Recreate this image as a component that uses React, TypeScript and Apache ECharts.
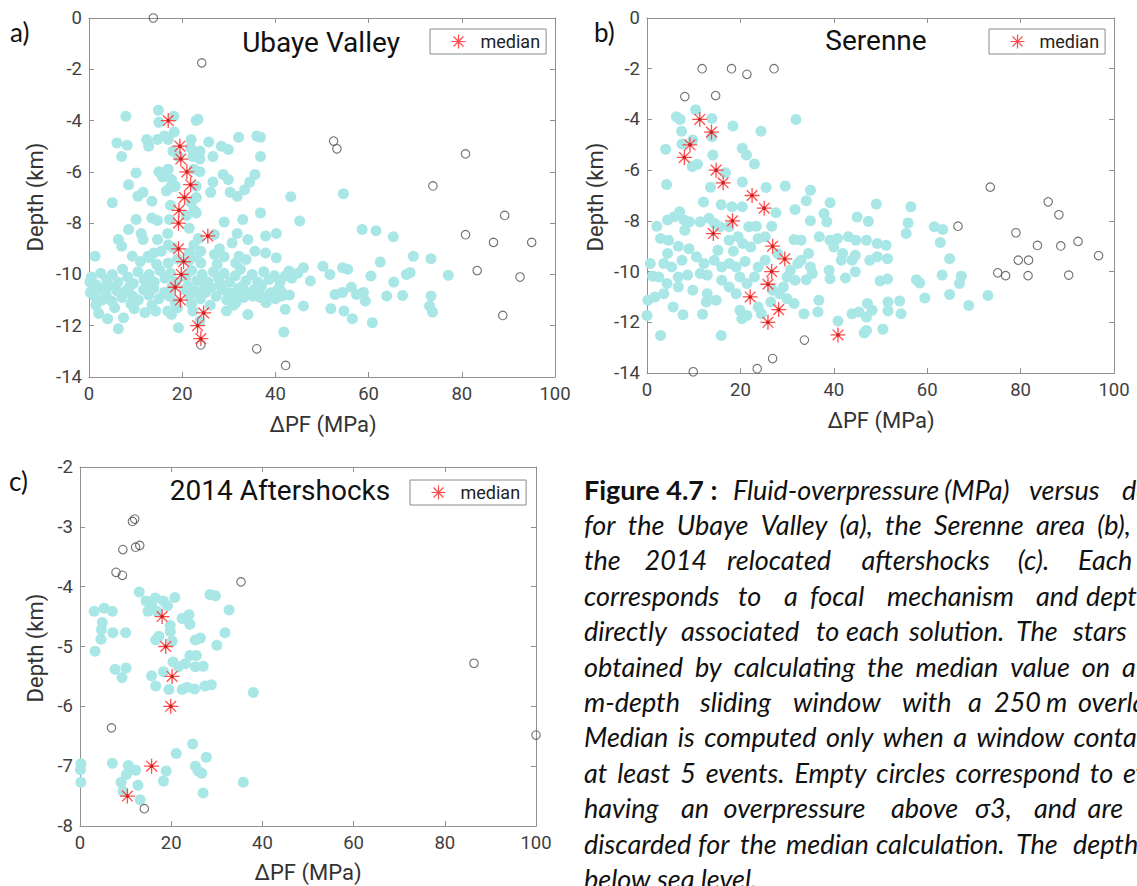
import React, { useEffect, useRef } from 'react';
import * as echarts from 'echarts';

// ---------- data ----------
const pfTicks = [0, 20, 40, 60, 80, 100];
const depthTicksAB = [-14, -12, -10, -8, -6, -4, -2, 0];
const depthTicksC = [-8, -7, -6, -5, -4, -3, -2];

const ubayeEvents: number[][] = [
  [14.9, -3.6], [18.2, -3.83], [7.9, -3.83], [23, -4], [23.4, -3.95], [15, -4.07],
  [18.3, -4.45], [6, -4.87], [8.2, -4.96], [12.4, -4.74], [12.8, -5], [14.7, -4.74], [16.2, -4.6], [17, -4.74],
  [21.9, -4.74], [21.8, -5.06], [23.8, -5.2], [25.7, -4.84], [28.4, -5], [29.9, -5.13], [32.1, -4.65], [36, -4.6],
  [36.8, -4.65], [7, -5.4], [23.8, -5.5], [26.6, -5.4], [36.8, -5.4], [22.3, -5.4], [19.2, -5.4], [18, -5.2],
  [10.1, -6.04], [8.5, -6.5], [15, -6], [15.8, -6.2], [17, -5.9], [17.7, -6.3], [16.6, -6.75], [18.5, -6.56],
  [23.8, -6], [26.1, -6.8], [26.6, -6.4], [28.8, -6.1], [29.9, -6.3], [34.5, -6.4], [35.6, -6.1], [33.4, -6.7],
  [30.3, -6.8], [31.8, -6.95], [23, -6.56], [22.5, -5.9], [17.5, -6.6],
  [10.5, -6.95], [11.6, -6.8], [5, -7.2], [13.5, -7.15], [21.9, -7.2], [43.3, -6.97], [54.6, -6.85], [36.8, -7.6],
  [23, -7.6], [20.9, -7.7], [23, -7.0], [22.5, -7.5], [17.5, -7.3],
  [10.1, -7.86], [13.5, -7.8], [14.7, -7.9], [17.3, -7.86], [29, -7.96], [33, -7.86], [45.2, -7.92], [6.3, -8.64],
  [8.5, -8.25], [11.2, -8.4], [11.6, -8.64], [14.7, -8.64], [16.9, -8.4], [26.9, -8.44], [30.7, -8.77], [31.8, -8.4],
  [34.1, -8.64], [37.9, -8.5], [40.2, -8.4], [58.6, -8.25], [61.6, -8.3], [65.3, -8.53], [7, -8.9], [21.5, -8.2],
  [23.5, -8.6], [17, -8.85],
  [1.3, -9.29], [9.3, -9.29], [12.7, -9.29], [13.9, -9.16], [21.5, -9.16], [26.9, -9.22], [29, -9.31], [32.2, -9.29],
  [33.7, -9.42], [35.6, -9.1], [37.9, -9.16], [40.2, -9.35], [31.5, -9.55], [69.6, -9.29], [73.4, -9.39], [62.5, -9.52],
  [11, -9.5], [14.5, -9.6], [17, -9.55], [21.5, -9.45], [24, -9.55], [27.5, -9.6], [15.5, -9.1], [18, -8.95],
  [22.5, -8.85], [24, -9.1], [28, -9.0], [13, -9.35], [19, -9.4], [23, -9.3],
  [46, -9.74], [50.2, -9.68], [51.7, -10], [54.4, -9.74], [55.5, -9.8], [60.5, -10.06], [65.4, -10.3], [68.1, -10],
  [68.9, -9.93], [77.1, -10.03], [47.5, -10.26], [42.1, -10.06], [42.9, -9.87],
  [52.8, -10.78], [54.4, -10.7], [56.3, -10.5], [57.4, -10.78], [58.9, -10.7], [59.3, -11.04], [63.9, -10.84],
  [67.3, -10.82], [73.4, -10.84], [73.1, -11.23], [73.7, -11.47], [46, -11.23], [51.9, -11.34], [54.7, -11.43],
  [56.5, -11.73], [60.8, -11.88], [41.8, -12.25], [42.1, -11.36], [34.1, -11.56], [29.5, -11.43], [19.2, -12.08],
  [6.3, -12.12], [7.4, -11.69], [4, -11.73], [2.1, -11.52], [9.7, -11.34], [12, -11.49], [14.3, -11.43], [16.9, -11.43],
  [17.7, -11.56], [22.3, -11.43], [23.8, -11.82], [31.5, -11.1], [36.8, -10.9], [41.4, -10.84], [40.6, -10.58],
  [39.1, -10.71], [35.5, -10.58], [34.1, -10.71], [31.8, -10.84], [29.8, -10.71],
  [0.5, -10.1], [1.5, -10.4], [2.5, -9.95], [3.8, -10.2], [5, -10.0], [6.2, -10.3], [7.2, -9.8], [8.3, -10.1],
  [9.5, -10.35], [10.5, -9.9], [11.8, -10.2], [12.9, -10.0], [14, -10.3], [15.2, -9.85], [16.3, -10.15], [17.5, -9.95],
  [18.6, -10.3], [20.8, -10.1], [22, -9.85], [23.1, -10.25], [24.3, -10.0], [25.5, -10.3], [26.7, -9.9], [27.8, -10.15],
  [29, -9.95], [30.2, -10.3], [31.4, -10.05], [32.5, -9.8], [33.7, -10.25], [35, -10.0], [36.2, -10.3], [37.5, -9.9],
  [38.6, -10.2], [39.8, -10.05], [41, -10.3], [43.5, -10.15], [44.8, -9.95],
  [0.3, -10.7], [1.4, -10.9], [2.6, -10.55], [3.7, -10.8], [4.9, -11.05], [6, -10.65], [7.1, -10.9], [8.2, -10.6],
  [9.4, -10.85], [10.6, -11.0], [11.7, -10.6], [12.8, -10.8], [13.9, -10.55], [15, -10.95], [16.2, -10.7], [17.3, -10.85],
  [18.5, -11.1], [20.5, -10.6], [21.6, -10.85], [22.8, -10.65], [23.9, -10.95], [25, -10.7], [26.2, -10.5], [27.3, -10.85],
  [28.5, -10.6], [29.6, -11.0], [30.8, -10.75], [32, -10.55], [33.2, -10.9], [35.2, -10.85], [36.5, -10.6], [37.8, -10.9],
  [38.8, -10.75], [40, -10.95], [41.2, -10.65], [43, -10.8],
  [1, -10.5], [4.5, -10.45], [8.8, -10.45], [13.2, -10.4], [17.8, -10.5], [21.2, -10.45], [24.8, -10.45], [28.2, -10.4],
  [33, -10.45], [37, -10.45], [0.2, -10.3],
  [1.5, -11.2], [5.5, -11.3], [9, -11.15], [13.5, -11.2], [19, -11.3], [22, -11.15], [26, -11.2], [31, -11.2],
  [38, -11.1], [2.8, -11.0]
];
const ubayeDiscarded: number[][] = [
  [13.8, 0], [24.2, -1.75], [52.5, -4.8], [53.2, -5.1], [80.8, -5.3], [73.8, -6.55], [89.2, -7.7], [80.8, -8.45],
  [86.8, -8.75], [95.0, -8.75], [83.3, -9.85], [92.5, -10.1], [88.8, -11.6], [24.0, -12.75], [36.0, -12.9], [42.2, -13.55]
];
const ubayeMedian: number[][] = [
  [17, -4], [19.5, -5], [19.7, -5.5], [21, -6], [21.8, -6.5], [20.5, -7], [19.3, -7.5], [19.2, -8], [25.5, -8.5],
  [19.2, -9], [20.3, -9.5], [19.8, -10], [18.5, -10.5], [19.6, -11], [24.6, -11.5], [23.3, -12], [24, -12.5]
];

const serenneEvents: number[][] = [
  [10.4, -3.62], [6.3, -3.89], [7.1, -4], [13.9, -3.96], [18.4, -4.26], [31.9, -4.0], [24.4, -4.47], [7.4, -4.47],
  [9.8, -4.81], [7.5, -4.97], [4, -5.18], [13.9, -4.68], [20.4, -5.14], [21.3, -5.4], [23, -5.76], [14.1, -5.4],
  [9.7, -5.86], [10.8, -5.77], [16.8, -6.1], [4.2, -6.57], [13.6, -6.67], [20.4, -6.47], [25.5, -6.68], [29.6, -6.63],
  [35, -6.79], [12.1, -7.26], [15.9, -7.36], [18.2, -7.44], [20.4, -7.44], [27.6, -7.68], [31.7, -7.55], [34.1, -7.21],
  [39.2, -7.29], [49.1, -7.34], [56.5, -7.44], [37.9, -7.71], [38.5, -8.04], [45, -7.85], [47.4, -8.02], [55.9, -8.08],
  [55.5, -8.5], [61.5, -8.23], [63.3, -8.34], [62.8, -8.85], [35, -8], [26.7, -8.21], [21.8, -8.23], [23.4, -8.21],
  [7, -7.64], [5.8, -7.84], [4.4, -7.97], [7.9, -7.97], [9.1, -8.04], [2.1, -8.21], [2.9, -8.7], [4.6, -8.76],
  [6.7, -9], [8.1, -8.37], [11.4, -8.04], [13.3, -7.9], [14.5, -8.1], [15.6, -8.23], [17.6, -8.23], [19.5, -8.63],
  [17.6, -8.76], [20.5, -8.89], [22.2, -9.03], [23.8, -8.7], [25.3, -8.63], [31.5, -8.74], [33, -8.76], [36.9, -8.63],
  [39.2, -8.76], [40.8, -8.7], [43.1, -8.63], [44.7, -8.76], [47, -8.76], [49.3, -8.89], [51.2, -8.96], [40, -9.03],
  [41.9, -9.29], [43.9, -9.55], [41.6, -9.55], [44.6, -9.36], [47.7, -9.55], [49.3, -9.42], [51.5, -9.49], [33, -9.55],
  [34.6, -9.29], [35, -9.82], [32.3, -9.68], [30.7, -9.95], [39, -9.95], [44.6, -10.01], [42.5, -10.25], [39.2, -10.28],
  [34.1, -10.32], [35.4, -10.08], [31.7, -10.34], [49.9, -10.37], [51.5, -10.29], [57.7, -10.32], [58.4, -10.45],
  [63.2, -10.14], [64.8, -9.49], [66.9, -10.47], [67.3, -10.18], [64.8, -10.9], [59.5, -11.04], [73, -10.94],
  [68.9, -11.34], [54.1, -11.16], [51.6, -11.2], [51.6, -11.55], [54.4, -11.66], [47.2, -11.26], [48.2, -11.53],
  [43.9, -11.66], [45.4, -11.59], [47, -11.79], [50.5, -12.27], [47, -12.32], [46.5, -12.42], [40.9, -11.95],
  [36.8, -11.13], [36.6, -11.59], [33.6, -11.66], [31.5, -11.26], [30, -11.07], [28.4, -10.87], [26.9, -10.74],
  [0.7, -9.68], [1.2, -10.18], [0.2, -11.13], [1.7, -11], [0, -11.73], [2.9, -12.52], [3.6, -9.68], [4.4, -9.29],
  [5.3, -9.82], [4.3, -10.47], [6.7, -10.21], [8.7, -10.14], [10.6, -9.42], [12.2, -9.68], [11.4, -10.08], [12.9, -10.14],
  [14.4, -9.55], [15.2, -9.16], [16, -9.82], [17.6, -9.68], [19.1, -9.82], [19.9, -10.21], [16, -10.34], [17.6, -10.61],
  [19.1, -10.87], [21.4, -10.47], [23, -10.21], [23.8, -9.82], [25.3, -9.55], [12.9, -10.87], [14.8, -11.13],
  [12.7, -11.2], [5.6, -11.4], [7.7, -11.7], [11.9, -11.68], [15.9, -12.52], [19.9, -11.53], [21.4, -11.73],
  [20.3, -11.86], [23.8, -11.4], [24.5, -11.66], [26.5, -11.2], [29.2, -10.61], [30, -10.21], [3.6, -10.87],
  [6.7, -10.61], [9.8, -10.74], [2.5, -10.21], [28, -9.3], [21, -9.6], [18.5, -9.2], [9, -9.1], [7.5, -9.55]
];
const serenneDiscarded: number[][] = [
  [11.8, -2.0], [18.1, -2.0], [21.4, -2.22], [27.2, -2.0], [8.1, -3.1], [14.7, -3.06], [73.5, -6.67], [85.9, -7.25],
  [88.2, -7.76], [66.6, -8.21], [79, -8.47], [83.6, -8.97], [88.6, -8.99], [92.3, -8.81], [96.7, -9.37], [79.5, -9.55],
  [81.7, -9.55], [75.1, -10.05], [76.8, -10.16], [81.6, -10.16], [90.3, -10.14], [33.7, -12.7], [26.9, -13.43],
  [23.6, -13.83], [9.9, -13.95]
];
const serenneMedian: number[][] = [
  [11.3, -4], [13.8, -4.5], [9.2, -5], [8, -5.5], [14.8, -6], [16.3, -6.5], [22.5, -7], [25.1, -7.5], [18.3, -8],
  [14.2, -8.5], [26.9, -9], [29.5, -9.5], [26.7, -10], [25.9, -10.5], [22.1, -11], [28.2, -11.5], [25.9, -12], [40.9, -12.5]
];

const aftershockEvents: number[][] = [
  [3.1, -4.41], [5.3, -4.36], [7.1, -4.41], [4.9, -4.6], [4.7, -4.72], [4.6, -4.88], [3.3, -5.08], [7.2, -4.77],
  [10, -4.77], [13, -4.09], [14.5, -4.24], [15.7, -4.32], [16.5, -4.19], [18.3, -4.24], [19.2, -4.32], [20.8, -4.18],
  [14.9, -4.41], [16.9, -4.41], [19.8, -4.65], [19.8, -4.75], [22.4, -4.53], [23.9, -4.47], [24.1, -4.63], [17.3, -4.83],
  [16.6, -4.89], [20.2, -4.91], [25.3, -4.89], [26.4, -4.86], [30, -4.98], [31.8, -4.77], [32.7, -4.39], [28.5, -4.13],
  [29.7, -4.15], [38, -5.77], [24.1, -5.15], [25.5, -5.15], [20.4, -5.26], [21.6, -5.34], [23.1, -5.29], [25.3, -5.34],
  [27, -5.33], [15.7, -5.49], [18.3, -5.42], [16.6, -5.66], [19.5, -5.72], [22.4, -5.72], [23.5, -5.68], [25.1, -5.71],
  [27.4, -5.66], [28.8, -5.64], [7.7, -5.38], [10.1, -5.36], [9.2, -5.52],
  [0.2, -6.96], [0.1, -7.06], [0.2, -7.27], [7.1, -6.95], [10.6, -6.99], [12.2, -7.07], [10.2, -7.14], [9, -7.27],
  [9.4, -7.42], [12.7, -7.32], [13.2, -7.56], [18.9, -7.08], [18.3, -7.25], [21.1, -6.79], [24.7, -6.63], [25.3, -7.0],
  [25.9, -7.08], [26.7, -7.12], [27.7, -6.85], [27, -7.45], [35.8, -7.27]
];
const aftershockDiscarded: number[][] = [
  [11.5, -2.91], [12, -2.87], [12.2, -3.34], [13.1, -3.31], [9.4, -3.38], [7.9, -3.76], [9.3, -3.81], [35.3, -3.92],
  [86.4, -5.28], [6.9, -6.36], [100, -6.48], [14.1, -7.71]
];
const aftershockMedian: number[][] = [
  [18, -4.5], [18.8, -5.0], [20.2, -5.5], [19.9, -6.0], [15.7, -7.0], [10.4, -7.5]
];

const panelTitles = ['Ubaye Valley', 'Serenne', '2014 Aftershocks'];
const panelTags = ['a)', 'b)', 'c)'];

// ---------- layout ----------
const STAR = 'path://M10 0L10 20M0 10L20 10M2.9 2.9L17.1 17.1M2.9 17.1L17.1 2.9';
const CYAN = '#a9e7e7';
const RED = '#ff3838';
const AXIS = '#8f8f8f';
const TICK_TXT = '#404040';
const FONT = 'Roboto, "DejaVu Sans", sans-serif';
const PAGE_W = 1137;

const panels = [
  {
    grid: { left: 89, top: 18, width: 466, height: 359 },
    ticks: depthTicksAB, events: ubayeEvents, discarded: ubayeDiscarded, median: ubayeMedian,
    title: [321, 42], tag: [10, 32], legend: [430, 29], yName: [35, 197], xName: [323, 424]
  },
  {
    grid: { left: 647, top: 18, width: 467, height: 355 },
    ticks: depthTicksAB, events: serenneEvents, discarded: serenneDiscarded, median: serenneMedian,
    title: [876, 40], tag: [594, 32], legend: [989, 29], yName: [595, 197], xName: [881, 420]
  },
  {
    grid: { left: 80, top: 467, width: 456, height: 359 },
    ticks: depthTicksC, events: aftershockEvents, discarded: aftershockDiscarded, median: aftershockMedian,
    title: [280, 490], tag: [9, 481], legend: [410, 480], yName: [35, 648], xName: [308, 872]
  }
];

// caption: word start positions for justified lines (measured); otherwise natural flow with extra gap
type Word = { t: string; x?: number; bold?: boolean };
type CapLine = { words: Word[]; gap: number };
const flow = (s: string, gap: number): CapLine => ({ words: s.split(' ').map((t) => ({ t })), gap });
const captionLines: CapLine[] = [
  { words: [{ t: 'Figure 4.7 :', x: 584, bold: true }, { t: 'Fluid-overpressure', x: 733 }, { t: '(MPa)', x: 935 }, { t: 'versus', x: 1029 }, { t: 'depth', x: 1122 }], gap: 0 },
  flow('for the Ubaye Valley (a), the Serenne area (b), and', 5.9),
  { words: [{ t: 'the', x: 584 }, { t: '2014', x: 644.6 }, { t: 'relocated', x: 727 }, { t: 'aftershocks', x: 861.5 }, { t: '(c).', x: 1017.7 }, { t: 'Each', x: 1078 }], gap: 0 },
  { words: [{ t: 'corresponds', x: 584 }, { t: 'to', x: 738 }, { t: 'a', x: 784 }, { t: 'focal', x: 810 }, { t: 'mechanism', x: 887 }, { t: 'and', x: 1036 }, { t: 'depth', x: 1086 }], gap: 0 },
  { words: [{ t: 'directly', x: 584 }, { t: 'associated', x: 681 }, { t: 'to', x: 816 }, { t: 'each', x: 846 }, { t: 'solution.', x: 909 }, { t: 'The', x: 1016 }, { t: 'stars', x: 1073 }], gap: 0 },
  flow('obtained by calculating the median value on a 500', 5.6),
  { words: [{ t: 'm-depth', x: 584 }, { t: 'sliding', x: 700 }, { t: 'window', x: 793 }, { t: 'with', x: 902 }, { t: 'a', x: 968 }, { t: '250', x: 994 }, { t: 'm', x: 1043 }, { t: 'overlap.', x: 1078 }], gap: 0 },
  flow('Median is computed only when a window contains', 3.1),
  flow('at least 5 events. Empty circles correspond to events', 3.5),
  { words: [{ t: 'having', x: 584 }, { t: 'an', x: 681 }, { t: 'overpressure', x: 723.6 }, { t: 'above', x: 891 }, { t: 'σ3,', x: 975 }, { t: 'and', x: 1034 }, { t: 'are', x: 1087.6 }], gap: 0 },
  { words: [{ t: 'discarded', x: 584 }, { t: 'for', x: 698 }, { t: 'the', x: 740 }, { t: 'median', x: 786 }, { t: 'calculation.', x: 876 }, { t: 'The', x: 1016 }, { t: 'depth', x: 1073 }], gap: 0 },
  flow('below sea level.', 0)
];
const CAP_FONT_FAMILY = 'Lato';
const CAP_SIZE = 27;
const CAP_LEFT = 584;
const CAP_TOP = 489;
const CAP_LEADING = 35.4;

function measure(text: string, bold: boolean): number {
  const c = document.createElement('canvas').getContext('2d');
  if (!c) return text.length * CAP_SIZE * 0.45;
  c.font = (bold ? 'bold ' : 'italic ') + CAP_SIZE + 'px ' + CAP_FONT_FAMILY + ', sans-serif';
  return c.measureText(text).width;
}

function buildOption() {
  const xAxis: any[] = [];
  const yAxis: any[] = [];
  const grid: any[] = [];
  const series: any[] = [];
  const legend: any[] = [];
  const graphic: any[] = [];

  panels.forEach((p, i) => {
    grid.push({ ...p.grid, containLabel: false, show: false });
    const lineStyle = { color: AXIS, width: 1 };
    const tick = { show: true, inside: true, length: 5, lineStyle };
    const labelStyle = { show: true, fontSize: 18.5, color: TICK_TXT, fontFamily: FONT, margin: 7 };
    xAxis.push({
      gridIndex: i, type: 'value', position: 'bottom', min: pfTicks[0], max: pfTicks[pfTicks.length - 1],
      interval: pfTicks[1] - pfTicks[0], axisLine: { show: true, lineStyle, onZero: false }, axisTick: tick,
      splitLine: { show: false }, axisLabel: labelStyle
    });
    xAxis.push({
      gridIndex: i, type: 'value', position: 'top', min: pfTicks[0], max: pfTicks[pfTicks.length - 1],
      interval: pfTicks[1] - pfTicks[0], axisLine: { show: true, lineStyle, onZero: false }, axisTick: tick,
      splitLine: { show: false }, axisLabel: { show: false }
    });
    const t = p.ticks;
    yAxis.push({
      gridIndex: i, type: 'value', position: 'left', min: t[0], max: t[t.length - 1], interval: t[1] - t[0],
      axisLine: { show: true, lineStyle, onZero: false }, axisTick: tick, splitLine: { show: false },
      axisLabel: labelStyle
    });
    yAxis.push({
      gridIndex: i, type: 'value', position: 'right', min: t[0], max: t[t.length - 1], interval: t[1] - t[0],
      axisLine: { show: true, lineStyle, onZero: false }, axisTick: tick, splitLine: { show: false },
      axisLabel: { show: false }
    });
    const xi = i * 2, yi = i * 2;
    series.push({
      type: 'scatter', name: 'events', xAxisIndex: xi, yAxisIndex: yi, data: p.events,
      symbol: 'circle', symbolSize: 11, itemStyle: { color: CYAN, opacity: 1 }, z: 2, silent: true
    });
    series.push({
      type: 'scatter', name: 'discarded', xAxisIndex: xi, yAxisIndex: yi, data: p.discarded,
      symbol: 'circle', symbolSize: 8.5, itemStyle: { color: 'rgba(255,255,255,0)', borderColor: '#4a4a4a', borderWidth: 1.1 },
      z: 3, silent: true
    });
    series.push({
      type: 'scatter', name: 'median', xAxisIndex: xi, yAxisIndex: yi, data: p.median,
      symbol: STAR, symbolSize: 15, itemStyle: { color: 'none', borderColor: RED, borderWidth: 1.3, opacity: 0.9 },
      z: 4, silent: true
    });
    series.push({
      type: 'scatter', name: 'median centre', xAxisIndex: xi, yAxisIndex: yi, data: p.median,
      symbol: 'circle', symbolSize: 3.5, itemStyle: { color: '#b81818' }, z: 5, silent: true
    });
    legend.push({
      data: [{ name: 'median', icon: STAR, itemStyle: { color: 'none', borderColor: RED, borderWidth: 1.2 } }],
      left: p.legend[0], top: p.legend[1], orient: 'horizontal',
      itemWidth: 14, itemHeight: 14, itemGap: 0,
      padding: [3, 6, 3, 19], backgroundColor: '#fff', borderColor: '#8a8a8a', borderWidth: 1, borderRadius: 0,
      textStyle: { fontSize: 18, color: '#222', fontFamily: FONT, padding: [0, 0, 0, 10] },
      selectedMode: false
    });
    graphic.push({
      type: 'text', x: p.title[0], y: p.title[1], z: 10,
      style: { text: panelTitles[i], fontSize: 28, fontFamily: FONT, fill: '#111', textAlign: 'center', textVerticalAlign: 'middle' }
    });
    graphic.push({
      type: 'text', x: p.tag[0], y: p.tag[1], z: 10,
      style: { text: panelTags[i], fontSize: 26, fontFamily: 'Lato, sans-serif', fill: '#111', textAlign: 'left', textVerticalAlign: 'middle' }
    });
    graphic.push({
      type: 'text', x: p.yName[0], y: p.yName[1], rotation: Math.PI / 2, z: 10,
      style: { text: 'Depth (km)', fontSize: 22, fontFamily: FONT, fill: '#333', textAlign: 'center', textVerticalAlign: 'middle' }
    });
    graphic.push({
      type: 'text', x: p.xName[0], y: p.xName[1], z: 10,
      style: { text: 'ΔPF (MPa)', fontSize: 22, fontFamily: FONT, fill: '#333', textAlign: 'center', textVerticalAlign: 'middle' }
    });
  });

  const space = measure(' ', false);
  captionLines.forEach((line, i) => {
    const y = CAP_TOP + i * CAP_LEADING;
    let cursor = CAP_LEFT;
    line.words.forEach((w, k) => {
      const bold = !!w.bold;
      const x = w.x !== undefined ? (k === 0 ? w.x : Math.max(w.x, cursor)) : cursor;
      if (x >= PAGE_W - 2) return;
      const width = measure(w.t, bold);
      graphic.push({
        type: 'text', x, y, z: 10,
        style: {
          text: w.t, fontSize: CAP_SIZE, fontFamily: CAP_FONT_FAMILY + ', "Open Sans", sans-serif',
          fontStyle: bold ? 'normal' : 'italic', fontWeight: bold ? 'bold' : 'normal',
          fill: '#111', textVerticalAlign: 'middle', textAlign: 'left'
        }
      });
      cursor = x + width + (w.x !== undefined ? space * 0.8 : space + line.gap);
    });
  });

  return {
    animation: false,
    backgroundColor: '#fff',
    grid, xAxis, yAxis, series, legend, graphic
  };
}

export default function App() {
  const ref = useRef<HTMLDivElement>(null);
  useEffect(() => {
    if (!ref.current) return;
    const chart = echarts.init(ref.current, undefined, { renderer: 'svg' });
    chart.setOption(buildOption() as any);
    return () => chart.dispose();
  }, []);
  return (
    <div
      ref={ref}
      style={{ position: 'absolute', left: 0, top: 0, width: PAGE_W, height: 886, overflow: 'hidden', background: '#fff' }}
    />
  );
}
